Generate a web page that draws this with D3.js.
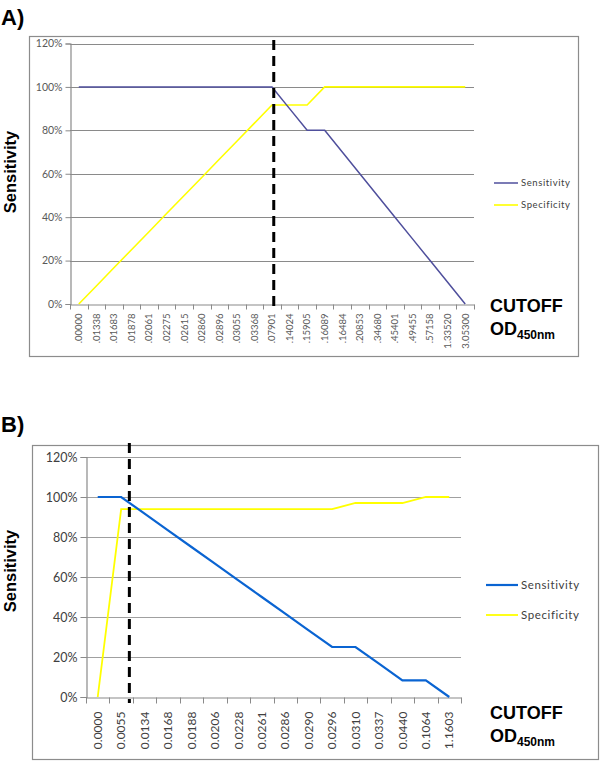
<!DOCTYPE html>
<html>
<head>
<meta charset="utf-8">
<script src="https://cdn.jsdelivr.net/npm/d3@7"></script>
<style>
  html, body { margin: 0; padding: 0; background: #fff; }
  svg { display: block; }
</style>
</head>
<body>
<svg id="chart" width="600" height="762"></svg>
<script>
// ---------- DATA ----------
const yTicks = [0, 20, 40, 60, 80, 100, 120];

const catsA = [".00000", ".01338", ".01683", ".01878", ".02061", ".02275", ".02615", ".02860",
  ".02896", ".03055", ".03368", ".07901", ".14024", ".15905", ".16089", ".16484", ".20853",
  ".34680", ".45401", ".49455", ".57158", "1.33520", "3.05300"];
const sensA = [100, 100, 100, 100, 100, 100, 100, 100, 100, 100, 100, 100, 90, 80, 80, 70, 60,
  50, 40, 30, 20, 10, 0];
const specA = [0, 8.3, 16.7, 25, 33.3, 41.7, 50, 58.3, 66.7, 75, 83.3, 91.7, 91.7, 91.7, 100,
  100, 100, 100, 100, 100, 100, 100, 100];
const cutoffA = 11.1;    // category index of the dashed cutoff line

const catsB = ["0.0000", "0.0055", "0.0134", "0.0168", "0.0188", "0.0206", "0.0228", "0.0261",
  "0.0286", "0.0290", "0.0296", "0.0310", "0.0337", "0.0440", "0.1064", "1.1603"];
const sensB = [100, 100, 91.7, 83.3, 75, 66.7, 58.3, 50, 41.7, 33.3, 25, 25, 16.7, 8.3, 8.3, 0];
const specB = [0, 93.9, 93.9, 93.9, 93.9, 93.9, 93.9, 93.9, 93.9, 93.9, 93.9, 97.0, 97.0, 97.0,
  100, 100];
const cutoffB = 1.35;    // fractional category index of the dashed cutoff line

const seriesNames = ["Sensitivity", "Specificity"];

// ---------- DRAW ----------
const svg = d3.select("#chart");
const labelFont = "Lato, 'Open Sans', 'Liberation Sans', sans-serif";
const boldFont = "'Liberation Sans', Arial, sans-serif";

function panel(cfg) {
  const g = svg.append("g");
  // frame
  g.append("rect")
    .attr("x", cfg.frame[0] + 0.5).attr("y", cfg.frame[1] + 0.5)
    .attr("width", cfg.frame[2] - cfg.frame[0]).attr("height", cfg.frame[3] - cfg.frame[1])
    .attr("fill", "none").attr("stroke", "#8c8c8c").attr("stroke-width", 1.2);

  const x = d3.scaleBand().domain(cfg.cats).range([cfg.left, cfg.right]).padding(0);
  const y = d3.scaleLinear().domain([0, 120]).range([cfg.bottom, cfg.top]);
  const xc = c => x(c) + x.bandwidth() / 2;

  // gridlines
  g.append("g").selectAll("line").data(yTicks.filter(t => t > 0)).join("line")
    .attr("x1", cfg.left).attr("x2", cfg.right)
    .attr("y1", d => Math.round(y(d)) + 0.5).attr("y2", d => Math.round(y(d)) + 0.5)
    .attr("stroke", cfg.gridColor).attr("stroke-width", 1.2);

  // y axis
  const yAxis = d3.axisLeft(y).tickValues(yTicks).tickFormat(d => d + "%")
    .tickSize(cfg.tickLen).tickPadding(3);
  const ya = g.append("g").attr("transform", `translate(${cfg.left + 0.5},0)`).call(yAxis);
  ya.select(".domain").attr("stroke", cfg.axisColor).attr("stroke-width", 1.2);
  ya.selectAll(".tick line").attr("stroke", cfg.axisColor);
  ya.selectAll(".tick text").attr("fill", cfg.tickTextColor)
    .style("font-family", labelFont).style("font-size", cfg.yFont + "px");

  // x axis (ticks at category boundaries)
  const xa = g.append("g").attr("transform", `translate(0,${Math.round(cfg.bottom) + 0.5})`)
    .call(d3.axisBottom(x).tickSize(0).tickPadding(0));
  xa.select(".domain").attr("stroke", cfg.axisColor).attr("stroke-width", 1.2);
  xa.selectAll(".tick line").remove();
  xa.selectAll(".tick text")
    .attr("transform", "rotate(-90)")
    .attr("x", -cfg.xLabelOff).attr("y", 0).attr("dy", "0.35em")
    .attr("text-anchor", "end")
    .attr("fill", cfg.tickTextColor)
    .style("font-family", labelFont).style("font-size", cfg.xFont + "px");
  const bounds = cfg.cats.map(c => x(c)).concat([cfg.right]);
  xa.append("g").selectAll("line").data(bounds).join("line")
    .attr("x1", d => Math.round(d) + 0.5).attr("x2", d => Math.round(d) + 0.5)
    .attr("y1", 0).attr("y2", cfg.tickLen)
    .attr("stroke", cfg.axisColor);

  // lines
  const line = d3.line().x((d, i) => xc(cfg.cats[i])).y(d => y(d));
  g.append("path").datum(cfg.spec).attr("d", line)
    .attr("fill", "none").attr("stroke", "#ffff00").attr("stroke-width", cfg.specWidth);
  g.append("path").datum(cfg.sens).attr("d", line)
    .attr("fill", "none").attr("stroke", cfg.sensColor).attr("stroke-width", cfg.sensWidth);

  // cutoff dashed line
  const ci = Math.floor(cfg.cutoff), frac = cfg.cutoff - ci;
  const cx = xc(cfg.cats[ci]) + frac * x.step();
  g.append("line")
    .attr("x1", cx).attr("x2", cx).attr("y1", cfg.dashTop).attr("y2", cfg.dashBottom)
    .attr("stroke", "#000").attr("stroke-width", 3).attr("stroke-dasharray", "10,6");

  // legend
  const colors = [cfg.sensColor, "#ffff00"];
  const widths = [cfg.sensWidth, cfg.specWidth];
  seriesNames.forEach((name, i) => {
    const ly = cfg.legendY + i * cfg.legendGap;
    g.append("line").attr("x1", cfg.legendX).attr("x2", cfg.legendX + cfg.legendLen)
      .attr("y1", ly).attr("y2", ly)
      .attr("stroke", colors[i]).attr("stroke-width", widths[i]);
    g.append("text").attr("x", cfg.legendX + cfg.legendLen + 3).attr("y", ly)
      .attr("dy", "0.35em").attr("fill", "#404040")
      .style("font-family", labelFont).style("font-size", cfg.legendFont + "px")
      .style("letter-spacing", "0.6px")
      .text(name);
  });

  // y title
  g.append("text")
    .attr("transform", `translate(${cfg.yTitleX},${cfg.yTitleY}) rotate(-90)`)
    .attr("text-anchor", "middle").attr("dy", "0.35em")
    .style("font-family", boldFont).style("font-weight", "bold").style("font-size", "16.5px")
    .text("Sensitivity");

  // cutoff label
  g.append("text").attr("x", 490).attr("y", cfg.cutY)
    .style("font-family", boldFont).style("font-weight", "bold").style("font-size", "18px")
    .text("CUTOFF");
  const od = g.append("text").attr("x", 490).attr("y", cfg.cutY + 23)
    .style("font-family", boldFont).style("font-weight", "bold").style("font-size", "18px");
  od.append("tspan").text("OD");
  od.append("tspan").attr("dy", 4).style("font-size", "12px").text("450nm");

  // panel letter
  g.append("text").attr("x", 1).attr("y", cfg.letterY)
    .style("font-family", boldFont).style("font-weight", "bold").style("font-size", "22px")
    .text(cfg.letter);
}

panel({
  letter: "A)", letterY: 25,
  frame: [29, 36, 578, 356],
  left: 70, right: 474, top: 43.5, bottom: 304,
  cats: catsA, sens: sensA, spec: specA, cutoff: cutoffA,
  gridColor: "#8a8a8a", axisColor: "#8a8a8a", tickTextColor: "#595959",
  tickLen: 5, yFont: 10.5, xFont: 9.5, xLabelOff: 9,
  sensColor: "#4f4f9c", sensWidth: 1.5, specWidth: 1.6,
  dashTop: 40, dashBottom: 308,
  legendX: 494, legendY: 183, legendGap: 22, legendLen: 24, legendFont: 9.5,
  yTitleX: 10, yTitleY: 172,
  cutY: 312
});

panel({
  letter: "B)", letterY: 432,
  frame: [32, 445, 598, 759],
  left: 86, right: 461, top: 457, bottom: 697,
  cats: catsB, sens: sensB, spec: specB, cutoff: cutoffB,
  gridColor: "#a0a0a0", axisColor: "#8a8a8a", tickTextColor: "#404040",
  tickLen: 6, yFont: 12.5, xFont: 12, xLabelOff: 14,
  sensColor: "#0a64d2", sensWidth: 2.2, specWidth: 1.8,
  dashTop: 443, dashBottom: 703,
  legendX: 486, legendY: 585, legendGap: 30, legendLen: 32, legendFont: 11.5,
  yTitleX: 10, yTitleY: 571,
  cutY: 719
});
</script>
</body>
</html>
